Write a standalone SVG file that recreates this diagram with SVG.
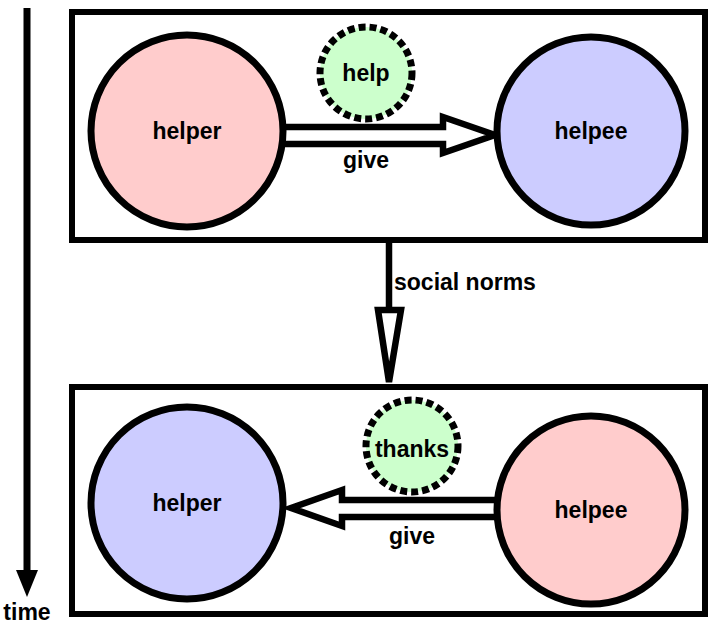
<svg xmlns="http://www.w3.org/2000/svg" width="716" height="625" viewBox="0 0 716 625">
<style>
text{font-family:"Liberation Sans",Arial,sans-serif;font-weight:bold;font-size:23px;fill:#000;text-anchor:middle;dominant-baseline:central}
.box{fill:#fff;stroke:#000;stroke-width:6}
.node{stroke:#000;stroke-width:7}
.pink{fill:#ffcccc}
.blue{fill:#ccccff}
.green{fill:#ccffcc;stroke:#000;stroke-width:7;stroke-dasharray:7 4}
.arr{fill:#fff;stroke:#000;stroke-width:6.5;stroke-linejoin:miter}
</style>
<rect width="716" height="625" fill="#fff"/>
<g id="frame1"><rect class="box" x="72" y="12" width="633" height="228"/></g>
<g id="frame2"><rect class="box" x="72" y="387" width="633" height="227"/></g>
<g id="connectors">
<line x1="27" y1="8" x2="27" y2="572" stroke="#000" stroke-width="7"/>
<polygon points="16,570 38,570 27,597" fill="#000"/>
<path class="arr" d="M280,127 L443,127 L443,117 L495,135 L443,153 L443,144 L280,144"/>
<path class="arr" d="M502,500 L342,500 L342,490 L291,508 L342,526 L342,517 L502,517"/>
<line x1="389" y1="240" x2="389" y2="310" stroke="#000" stroke-width="6.5"/>
<polygon class="arr" points="378,310 401,310 389,382"/>
</g>
<g id="helper1"><circle class="node pink" cx="187" cy="131" r="96"/><text x="187" y="131">helper</text></g>
<g id="helpee1"><circle class="node blue" cx="591" cy="131" r="94"/><text x="591" y="131">helpee</text></g>
<g id="help"><circle class="green" cx="366" cy="73" r="46"/><text x="366" y="73">help</text></g>
<text x="366" y="160">give</text>
<text x="394" y="282" style="text-anchor:start">social norms</text>
<g id="helper2"><circle class="node blue" cx="187" cy="503" r="96"/><text x="187" y="503">helper</text></g>
<g id="helpee2"><circle class="node pink" cx="591" cy="510" r="94"/><text x="591" y="510">helpee</text></g>
<g id="thanks"><circle class="green" cx="412" cy="446" r="46"/><text x="412" y="449">thanks</text></g>
<text x="412" y="536">give</text>
<text x="27" y="612">time</text>
</svg>
